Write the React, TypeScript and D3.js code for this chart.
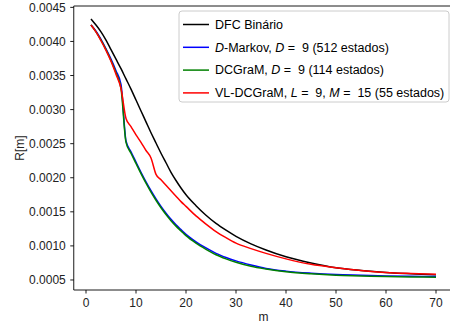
import React from "react";
import * as d3 from "d3";

// sample points of m shared by all series
const mValues = [1, 2, 3, 4, 5, 6, 7, 8, 9, 10, 11, 12, 13, 14, 15, 16, 17, 18, 19, 20, 22, 24, 26, 28, 30, 33, 36, 40, 45, 50, 55, 60, 65, 70];

const dfcBinario = [0.00433, 0.00424, 0.00414, 0.00402, 0.00388, 0.00374, 0.0036, 0.00345, 0.0033, 0.00314, 0.00298, 0.00282, 0.00266, 0.00251, 0.00236, 0.00222, 0.00208, 0.00196, 0.00185, 0.00175, 0.00159, 0.00145, 0.00133, 0.00123, 0.00114, 0.00103, 0.00094, 0.00084, 0.00075, 0.00068, 0.00064, 0.00061, 0.00059, 0.000578];
const dMarkov = [0.00424, 0.00415, 0.00403, 0.00389, 0.00374, 0.00357, 0.00337, 0.00254, 0.00238, 0.00223, 0.00208, 0.00194, 0.00181, 0.00169, 0.00158, 0.00148, 0.00139, 0.00131, 0.00124, 0.00117, 0.00106, 0.00097, 0.00089, 0.00083, 0.00078, 0.00072, 0.00067, 0.00063, 0.0006, 0.00058, 0.00057, 0.00056, 0.000555, 0.00055];
const dcGram = [0.00424, 0.00414, 0.00402, 0.00388, 0.00372, 0.00354, 0.00331, 0.00252, 0.00236, 0.00221, 0.00206, 0.00192, 0.00179, 0.00167, 0.00156, 0.00146, 0.00137, 0.00129, 0.00122, 0.00115, 0.00104, 0.00095, 0.00087, 0.00081, 0.00076, 0.0007, 0.00066, 0.00062, 0.00059, 0.00057, 0.00056, 0.00055, 0.000545, 0.00054];
const vlDcGram = [0.00424, 0.00414, 0.00401, 0.00387, 0.00371, 0.00352, 0.00331, 0.00287, 0.00275, 0.00263, 0.00252, 0.0024, 0.00229, 0.00205, 0.00197, 0.00189, 0.00181, 0.00173, 0.00165, 0.00158, 0.00144, 0.00132, 0.00121, 0.00112, 0.00104, 0.00096, 0.00089, 0.00081, 0.00073, 0.00068, 0.00064, 0.00061, 0.000595, 0.000585];

const xTicks = [0, 10, 20, 30, 40, 50, 60, 70];
const yTicks = [0.0005, 0.001, 0.0015, 0.002, 0.0025, 0.003, 0.0035, 0.004, 0.0045];

// legend labels: [text, italic]
const legendLabels: [string, boolean][][] = [
  [["DFC Binário", false]],
  [["D", true], ["-Markov, ", false], ["D", true], [" =  9 (512 estados)", false]],
  [["DCGraM, ", false], ["D", true], [" =  9 (114 estados)", false]],
  [["VL-DCGraM, ", false], ["L", true], [" =  9, ", false], ["M", true], [" =  15 (55 estados)", false]],
];
const seriesColors = ["#000000", "#0000ff", "#008000", "#ff0000"];

const W = 450;
const H = 325;
const font = "'Liberation Sans', Arial, sans-serif";

export default function App() {
  const x = d3.scaleLinear().domain([-2.45, 73.45]).range([73.75, 453.25]);
  const y = d3.scaleLinear().domain([0.000353, 0.00452]).range([290, 6]);

  const series = [dfcBinario, dMarkov, dcGram, vlDcGram];
  const line = d3
    .line<number>()
    .x((_, i) => x(mValues[i]))
    .y((d) => y(d))
    .curve(d3.curveMonotoneX);

  const fmt = d3.format(".4f");
  const left = x.range()[0];
  const right = x.range()[1];
  const top = y.range()[1];
  const bottom = y.range()[0];

  const legX = 179;
  const legY = 11;
  const rowH = 22.8;

  return (
    <svg
      width={W}
      height={H}
      style={{ position: "absolute", left: 0, top: 0, background: "#fff" }}
      fontFamily={font}
    >
      <rect width={W} height={H} fill="#fff" />
      {series.map((s, i) => (
        <path key={i} d={line(s) || ""} fill="none" stroke={seriesColors[i]} strokeWidth={1.5} strokeLinejoin="round" />
      ))}

      {/* spines */}
      <g stroke="#000" strokeWidth={0.9} fill="none">
        <line x1={left} x2={left} y1={top} y2={bottom} />
        <line x1={left} x2={right} y1={bottom} y2={bottom} />
        <line x1={left} x2={right} y1={top} y2={top} />
        <line x1={right} x2={right} y1={top} y2={bottom} />
      </g>

      {/* y axis */}
      {yTicks.map((t) => (
        <g key={t} transform={`translate(0,${y(t)})`}>
          <line x1={left - 3.5} x2={left} stroke="#000" strokeWidth={0.9} />
          <text x={left - 8} dy="0.35em" textAnchor="end" fontSize={12} fill="#222">
            {fmt(t)}
          </text>
        </g>
      ))}

      {/* x axis */}
      {xTicks.map((t) => (
        <g key={t} transform={`translate(${x(t)},0)`}>
          <line y1={bottom} y2={bottom + 3.5} stroke="#000" strokeWidth={0.9} />
          <text y={bottom + 17} textAnchor="middle" fontSize={12} fill="#222">
            {t}
          </text>
        </g>
      ))}

      <text x={(left + right) / 2} y={321} textAnchor="middle" fontSize={12} fill="#222">
        m
      </text>
      <text transform={`translate(24,${(top + bottom) / 2}) rotate(-90)`} textAnchor="middle" fontSize={12} fill="#222">
        R[m]
      </text>

      {/* legend */}
      <rect x={legX} y={legY} width={270} height={91} rx={3} fill="#fff" fillOpacity={0.8} stroke="#cccccc" />
      {legendLabels.map((parts, i) => {
        const cy = legY + 13.5 + i * rowH;
        return (
          <g key={i}>
            <line x1={183} x2={209} y1={cy} y2={cy} stroke={seriesColors[i]} strokeWidth={1.5} />
            <text x={215} y={cy} dy="0.35em" fontSize={12.5} fill="#000" style={{ whiteSpace: "pre" }}>
              {parts.map(([txt, it], j) => (
                <tspan key={j} fontStyle={it ? "italic" : "normal"}>
                  {txt}
                </tspan>
              ))}
            </text>
          </g>
        );
      })}
    </svg>
  );
}
